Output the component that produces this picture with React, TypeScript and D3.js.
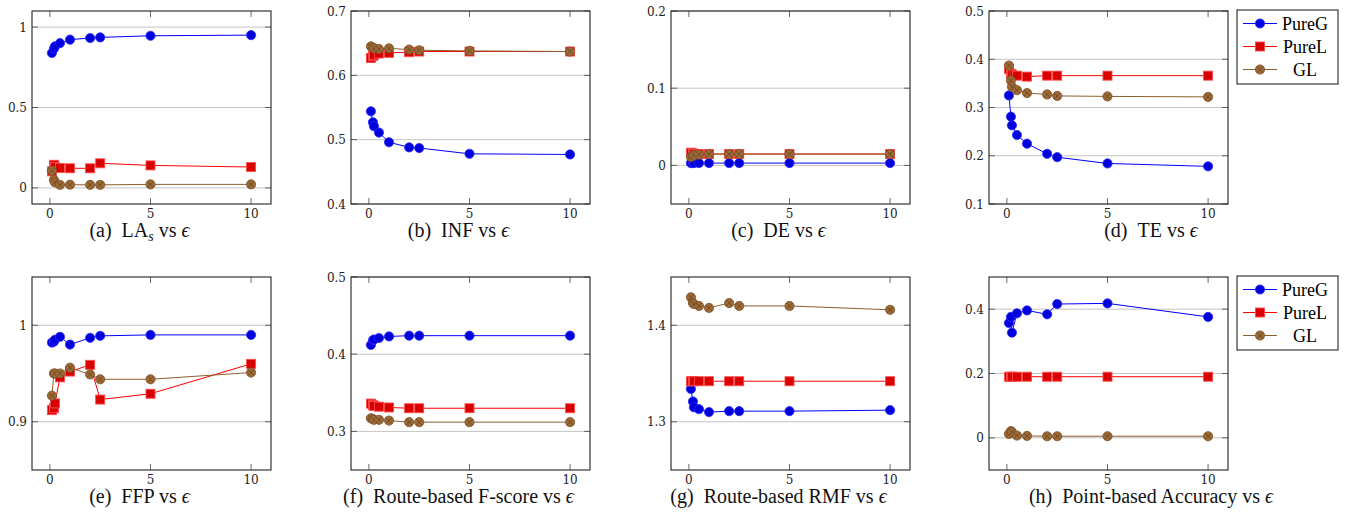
import * as d3 from 'd3';

const eps = [0.1, 0.2, 0.25, 0.5, 1, 2, 2.5, 5, 10];
const xTicks = [0, 5, 10];
const seriesNames = ['PureG', 'PureL', 'GL'];

// (a) LA_s
const laPureG = [0.839, 0.866, 0.88, 0.9, 0.922, 0.932, 0.936, 0.946, 0.95];
const laPureL = [0.103, 0.144, 0.13, 0.124, 0.122, 0.122, 0.153, 0.14, 0.13];
const laGL = [0.107, 0.05, 0.035, 0.019, 0.02, 0.019, 0.019, 0.022, 0.022];
// (b) INF
const infPureG = [0.544, 0.527, 0.521, 0.511, 0.496, 0.488, 0.487, 0.478, 0.477];
const infPureL = [0.627, 0.63, 0.632, 0.634, 0.635, 0.636, 0.637, 0.637, 0.637];
const infGL = [0.645, 0.643, 0.642, 0.641, 0.642, 0.64, 0.639, 0.638, 0.637];
// (c) DE
const dePureG = [0.003, 0.003, 0.003, 0.003, 0.003, 0.003, 0.003, 0.003, 0.003];
const dePureL = [0.0165, 0.0156, 0.015, 0.0147, 0.0147, 0.0147, 0.0147, 0.0147, 0.0147];
const deGL = [0.011, 0.013, 0.013, 0.014, 0.0147, 0.0147, 0.0147, 0.0147, 0.0147];
// (d) TE
const tePureG = [0.325, 0.281, 0.263, 0.243, 0.225, 0.204, 0.197, 0.184, 0.178];
const tePureL = [0.38, 0.37, 0.368, 0.366, 0.364, 0.366, 0.366, 0.366, 0.366];
const teGL = [0.387, 0.356, 0.343, 0.336, 0.33, 0.327, 0.324, 0.323, 0.322];
// (e) FFP
const ffpPureG = [0.982, 0.983, 0.985, 0.988, 0.98, 0.987, 0.989, 0.99, 0.99];
const ffpPureL = [0.912, 0.914, 0.919, 0.946, 0.952, 0.959, 0.923, 0.929, 0.96];
const ffpGL = [0.927, 0.95, 0.95, 0.95, 0.956, 0.949, 0.944, 0.944, 0.951];
// (f) Route-based F-score
const fsPureG = [0.412, 0.418, 0.419, 0.421, 0.423, 0.424, 0.424, 0.424, 0.424];
const fsPureL = [0.336, 0.334, 0.333, 0.332, 0.331, 0.33, 0.33, 0.33, 0.33];
const fsGL = [0.317, 0.316, 0.315, 0.315, 0.314, 0.312, 0.312, 0.312, 0.312];
// (g) Route-based RMF
const rmfPureG = [1.334, 1.321, 1.315, 1.313, 1.31, 1.311, 1.311, 1.311, 1.312];
const rmfPureL = [1.342, 1.342, 1.342, 1.342, 1.342, 1.342, 1.342, 1.342, 1.342];
const rmfGL = [1.429, 1.423, 1.422, 1.42, 1.418, 1.423, 1.42, 1.42, 1.416];
// (h) Point-based Accuracy
const accPureG = [0.357, 0.376, 0.327, 0.387, 0.396, 0.384, 0.416, 0.418, 0.376];
const accPureL = [0.19, 0.19, 0.19, 0.19, 0.19, 0.19, 0.19, 0.19, 0.19];
const accGL = [0.012, 0.021, 0.018, 0.007, 0.006, 0.005, 0.005, 0.005, 0.005];

const panels = [
    { tag: '(a)', name: 'LA', sub: 's', y: [-0.1, 1.1], ticks: [0, 0.5, 1], data: [laPureG, laPureL, laGL] },
    { tag: '(b)', name: 'INF', y: [0.4, 0.7], ticks: [0.4, 0.5, 0.6, 0.7], data: [infPureG, infPureL, infGL] },
    { tag: '(c)', name: 'DE', y: [-0.05, 0.2], ticks: [0, 0.1, 0.2], data: [dePureG, dePureL, deGL] },
    { tag: '(d)', name: 'TE', y: [0.1, 0.5], ticks: [0.1, 0.2, 0.3, 0.4, 0.5], data: [tePureG, tePureL, teGL], legend: true },
    { tag: '(e)', name: 'FFP', y: [0.85, 1.05], ticks: [0.9, 1], data: [ffpPureG, ffpPureL, ffpGL] },
    { tag: '(f)', name: 'Route-based F-score', y: [0.25, 0.5], ticks: [0.3, 0.4, 0.5], data: [fsPureG, fsPureL, fsGL] },
    { tag: '(g)', name: 'Route-based RMF', y: [1.25, 1.45], ticks: [1.3, 1.4], data: [rmfPureG, rmfPureL, rmfGL] },
    { tag: '(h)', name: 'Point-based Accuracy', y: [-0.1, 0.5], ticks: [0, 0.2, 0.4], data: [accPureG, accPureL, accGL], legend: true },
];

const colLeft = [32, 351, 671, 989];
const plotW = 239;
const rowTop = [11, 277];
const plotH = 193;

const lineColors = ['#0000ff', '#ff0000', '#8c5e30'];
const tickFont = '"DejaVu Serif", serif';
const textFont = '"Liberation Serif", "Times New Roman", serif';

function Marker({ kind, x, y }) {
    if (kind === 0) {
        return <circle cx={x} cy={y} r={4.6} fill="#0000dd" stroke="#2a2aff" strokeWidth={0.8} />;
    }
    if (kind === 1) {
        return <rect x={x - 4.5} y={y - 4.5} width={9} height={9} fill="#d80000" stroke="#ff4a4a" strokeWidth={0.9} />;
    }
    const d = 3;
    return (
        <g>
            <circle cx={x} cy={y} r={4.6} fill="#9c6a36" stroke="#7d5128" strokeWidth={0.8} />
            <path d={`M${x - d},${y - d}L${x + d},${y + d}M${x - d},${y + d}L${x + d},${y - d}`} stroke="#6a4320" strokeWidth={0.8} />
        </g>
    );
}

function Legend({ x, y }) {
    const rowGap = 23;
    return (
        <g transform={`translate(${x},${y})`}>
            <rect x={0} y={0} width={101} height={74} fill="white" stroke="#111" strokeWidth={1} />
            {seriesNames.map((name, i) => {
                const cy = 13.5 + i * rowGap;
                return (
                    <g key={name}>
                        <line x1={6} x2={40} y1={cy} y2={cy} stroke={lineColors[i]} strokeWidth={1} />
                        <Marker kind={i} x={23} y={cy} />
                        <text x={68} y={cy + 6} textAnchor="middle" fontFamily={textFont} fontSize={18}>{name}</text>
                    </g>
                );
            })}
        </g>
    );
}

function Panel({ p, left, top }) {
    const x = d3.scaleLinear().domain([-0.89, 10.99]).range([left, left + plotW]);
    const y = d3.scaleLinear().domain(p.y).range([top + plotH, top]);
    const line = d3.line().x((d, i) => x(eps[i])).y(d => y(d));
    const fmt = v => String(+v.toFixed(2));
    const capX = p.legend ? 1151 : left + plotW / 2 - 12;
    const tl = 6;

    return (
        <g>
            {p.ticks.map(t => (
                <line key={'g' + t} x1={left} x2={left + plotW} y1={y(t)} y2={y(t)} stroke="#c4c4c4" strokeWidth={1} />
            ))}
            {p.ticks.map(t => (
                <g key={'yt' + t}>
                    <line x1={left} x2={left + tl} y1={y(t)} y2={y(t)} stroke="#444" strokeWidth={0.8} />
                    <line x1={left + plotW - tl} x2={left + plotW} y1={y(t)} y2={y(t)} stroke="#444" strokeWidth={0.8} />
                    <text x={left - 5} y={y(t) + 4.5} textAnchor="end" fontFamily={tickFont} fontSize={12} fill="#222">{fmt(t)}</text>
                </g>
            ))}
            {xTicks.map(t => (
                <g key={'xt' + t}>
                    <line x1={x(t)} x2={x(t)} y1={top} y2={top + tl} stroke="#444" strokeWidth={0.8} />
                    <line x1={x(t)} x2={x(t)} y1={top + plotH - tl} y2={top + plotH} stroke="#444" strokeWidth={0.8} />
                    <text x={x(t)} y={top + plotH + 14} textAnchor="middle" fontFamily={tickFont} fontSize={12} fill="#222">{t}</text>
                </g>
            ))}
            {p.data.map((s, i) => (
                <g key={'s' + i}>
                    <path d={line(s)} fill="none" stroke={lineColors[i]} strokeWidth={1} />
                    {s.map((v, j) => <Marker key={j} kind={i} x={x(eps[j])} y={y(v)} />)}
                </g>
            ))}
            <rect x={left} y={top} width={plotW} height={plotH} fill="none" stroke="#222" strokeWidth={1.1} />
            <text x={capX} y={top + plotH + 33} textAnchor="middle" fontFamily={textFont} fontSize={20} fill="#111">
                {p.tag}{'\u2002'}{p.name}
                {p.sub ? <tspan fontStyle="italic" fontSize={14} dy={4}>{p.sub}</tspan> : null}
                <tspan dy={p.sub ? -4 : 0}>{' vs '}</tspan>
                <tspan fontStyle="italic">{'\u03f5'}</tspan>
            </text>
            {p.legend ? <Legend x={1237} y={top - 1} /> : null}
        </g>
    );
}

export default function App() {
    return (
        <svg width={1359} height={512} style={{ position: 'absolute', left: 0, top: 0, background: 'white' }}>
            <rect width={1359} height={512} fill="white" />
            {panels.map((p, i) => (
                <Panel key={p.tag} p={p} left={colLeft[i % 4]} top={rowTop[Math.floor(i / 4)]} />
            ))}
        </svg>
    );
}
